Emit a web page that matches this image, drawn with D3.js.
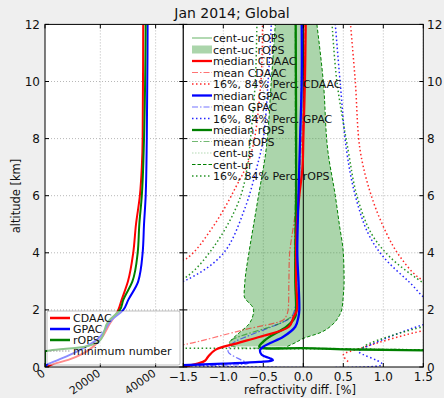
<!DOCTYPE html>
<html>
<head>
<meta charset="utf-8">
<script src="https://cdn.jsdelivr.net/npm/d3@7"></script>
<style>
  body { margin: 0; background: #efefef; }
  text { font-family: "DejaVu Sans", sans-serif; fill: #111; }
</style>
</head>
<body>
<svg id="chart" width="444" height="398"></svg>
<script>
// ---- left panel: number of profiles vs altitude ----
const nAltCDAAC = [0, 0.1, 0.25, 0.48, 0.95, 1.5, 2, 2.35, 3, 4, 5, 6, 7, 8, 12];
const nCDAAC = [600, 3000, 8400, 13900, 19900, 23300, 26500, 27700, 30000, 31900, 32900, 34300, 35000, 35300, 35500];
const nAltGPAC = [0, 0.07, 0.25, 0.48, 0.95, 1.65, 2, 2.35, 3, 4, 5, 6, 8, 12];
const nGPAC = [300, 600, 4800, 10200, 18700, 24100, 28300, 30100, 33700, 35300, 35800, 36400, 36800, 37100];
const nAltROPS = [0, 0.55, 0.58, 0.7, 0.93, 1.6, 2, 2.35, 3, 4, 5, 6, 8, 12];
const nROPS = [0, 0, 1800, 13900, 19900, 22900, 27100, 28300, 31600, 33500, 34100, 35000, 35800, 36400];
const nTicks = [0, 20000, 40000];

// ---- right panel: refractivity difference [%] ----
const medCAlt = [0, 0.05, 0.13, 0.22, 0.36, 0.6, 0.83, 1.06, 1.41, 1.76, 2, 3, 4, 5, 6, 7, 8, 10, 12];
const medC = [-1.5, -1.42, -1.31, -1.23, -1.19, -1.1, -0.83, -0.54, -0.18, -0.12, -0.08, -0.09, -0.09, -0.08, -0.05, -0.01, 0.0, 0.02, 0.03];
const medGAlt = [0.05, 0.12, 0.18, 0.24, 0.31, 0.43, 0.6, 0.71, 0.83, 1.06, 1.41, 1.76, 2, 3, 4, 6, 8, 10, 12];
const medG = [-1.6, -1.0, -0.55, -0.38, -0.42, -0.52, -0.54, -0.5, -0.42, -0.25, -0.1, -0.06, -0.05, -0.06, -0.075, -0.06, -0.04, -0.02, -0.02];
const medRAlt = [0.58, 0.6, 0.62, 0.66, 0.71, 0.89, 1.06, 1.41, 1.76, 2, 3, 4, 6, 8, 12];
const medR = [1.6, 1.0, 0.5, 0.0, -0.55, -0.5, -0.42, -0.21, -0.1, -0.09, -0.1, -0.1, -0.09, -0.09, -0.095];

const meanCAlt = [0.7, 0.8, 1.3, 1.65, 1.8, 2, 3, 4, 5, 6, 8, 10, 12];
const meanC = [-1.7, -1.46, -0.75, -0.25, -0.21, -0.19, -0.18, -0.17, -0.12, -0.07, -0.02, 0.01, 0.02];
const meanGAlt = [0.06, 0.13, 0.25, 0.54, 0.83, 1.11, 1.52, 1.75, 2, 3, 4, 6, 8, 12];
const meanG = [-1.6, -0.69, -0.78, -0.94, -0.88, -0.67, -0.3, -0.15, -0.11, -0.08, -0.08, -0.06, -0.04, -0.01];
const meanRAlt = [0.6, 0.67, 0.75, 0.89, 1.58, 1.88, 2, 3, 4, 6, 8, 12];
const meanR = [1.6, 0.0, -0.9, -0.92, -0.25, -0.11, -0.1, -0.1, -0.11, -0.1, -0.1, -0.1];

const p16CAlt = [3.5, 3.8, 4.91, 6.32, 7.5, 10, 12];
const p16C = [-1.8, -1.46, -1.13, -0.84, -0.65, -0.53, -0.51];
const p84CAlt = [0.19, 0.42, 0.65, 1.27, 1.35, 2.8, 3.1, 3.86, 4.68, 6, 7.6, 10, 12];
const p84C = [0.56, 0.5, 0.71, 1.5, 1.8, 1.8, 1.46, 1.21, 1.04, 0.85, 0.71, 0.65, 0.59];
const p16GAlt = [2.8, 3.05, 3.98, 5.56, 7, 8, 10, 12];
const p16G = [-1.8, -1.46, -1.0, -0.73, -0.58, -0.5, -0.44, -0.4];
const p84GAlt = [0.07, 0.07, 0.13, 0.54, 0.6, 1.53, 1.6, 2.3, 2.35, 2.96, 3.86, 4.68, 6, 7.6, 10, 12];
const p84G = [-1.8, 0.98, 0.98, 0.69, 0.71, 1.56, 1.8, 1.8, 1.56, 1.33, 1.0, 0.81, 0.65, 0.54, 0.46, 0.4];
const p16RAlt = [0.6, 0.64, 0.66, 0.67, 2.8, 3.16, 4.33, 5.85, 7, 8, 10, 12];
const p16R = [1.6, 0.0, -1.5, -1.8, -1.8, -1.46, -1.09, -0.8, -0.7, -0.66, -0.6, -0.58];
const p84RAlt = [0.6, 0.68, 1.41, 1.5, 2.7, 2.8, 3.1, 3.86, 4.68, 6, 7.6, 10, 12];
const p84R = [1.6, 0.75, 1.5, 1.8, 1.8, 1.6, 1.42, 1.08, 0.85, 0.67, 0.56, 0.42, 0.36];

// cent-ur band (shaded cent-uc region)
const bandAlt = [0.72, 0.85, 1.0, 1.2, 1.5, 1.8, 2.0, 2.5, 3, 4, 5, 6, 7.5, 10, 12];
const bandLo = [-0.9, -0.92, -0.88, -0.8, -0.68, -0.63, -0.62, -0.74, -0.73, -0.68, -0.62, -0.56, -0.47, -0.4, -0.35];
const bandHi = [-0.2, -0.1, 0.0, 0.21, 0.37, 0.45, 0.48, 0.5, 0.51, 0.5, 0.45, 0.4, 0.31, 0.25, 0.17];

const diffTicks = [-1.5, -1.0, -0.5, 0.0, 0.5, 1.0, 1.5];
const altTicks = [0, 2, 4, 6, 8, 10, 12];

const RED = "#ff0000", BLUE = "#0000ff", GREEN = "#008000";

const svg = d3.select("#chart");
const yTop = 24.4, yBot = 367;
const y = d3.scaleLinear().domain([0, 12]).range([yBot, yTop]);
const xL = d3.scaleLinear().domain([0, 50000]).range([45, 183.3]);
const xR = d3.scaleLinear().domain([-1.5, 1.5]).range([183.3, 423.3]);

const zip = (a, v) => a.map((h, i) => [v[i], h]);

function panel(x, id) {
  const [x0, x1] = x.range();
  svg.append("rect").attr("x", x0).attr("y", yTop).attr("width", x1 - x0).attr("height", yBot - yTop).attr("fill", "#fff");
  svg.append("clipPath").attr("id", id).append("rect")
    .attr("x", x0).attr("y", yTop).attr("width", x1 - x0).attr("height", yBot - yTop);
  return svg.append("g").attr("clip-path", `url(#${id})`);
}

function grid(g, x, xt) {
  const [x0, x1] = x.range();
  g.selectAll(null).data(altTicks.slice(1, -1)).enter().append("line")
    .attr("x1", x0).attr("x2", x1).attr("y1", d => y(d)).attr("y2", d => y(d))
    .attr("stroke", "#b8b8b8").attr("stroke-dasharray", "1,2");
  g.selectAll(null).data(xt).enter().append("line")
    .attr("x1", d => x(d)).attr("x2", d => x(d)).attr("y1", yTop).attr("y2", yBot)
    .attr("stroke", "#b8b8b8").attr("stroke-dasharray", "1,2");
}

function frame(x, xt) {
  const [x0, x1] = x.range();
  const g = svg.append("g").attr("stroke", "#000").attr("stroke-width", 1);
  g.append("rect").attr("x", x0).attr("y", yTop).attr("width", x1 - x0).attr("height", yBot - yTop).attr("fill", "none");
  altTicks.forEach(t => {
    g.append("line").attr("x1", x0).attr("x2", x0 + 4).attr("y1", y(t)).attr("y2", y(t));
    g.append("line").attr("x1", x1).attr("x2", x1 - 4).attr("y1", y(t)).attr("y2", y(t));
  });
  xt.forEach(t => {
    g.append("line").attr("x1", x(t)).attr("x2", x(t)).attr("y1", yBot).attr("y2", yBot - 4);
    g.append("line").attr("x1", x(t)).attr("x2", x(t)).attr("y1", yTop).attr("y2", yTop + 4);
  });
}

const line = (x, curve) => d3.line().x(d => x(d[0])).y(d => y(d[1])).curve(curve);
const smooth = d3.curveCatmullRom.alpha(0.5);

// ---------- left panel ----------
const gL = panel(xL, "clipL");
grid(gL, xL, nTicks.slice(1));
[[nAltCDAAC, nCDAAC, RED], [nAltGPAC, nGPAC, BLUE], [nAltROPS, nROPS, GREEN]].forEach(([a, v, c]) => {
  gL.append("path").datum(zip(a, v)).attr("d", line(xL, d3.curveMonotoneY))
    .attr("fill", "none").attr("stroke", c).attr("stroke-width", 2);
});
frame(xL, nTicks);

// ---------- right panel ----------
const gR = panel(xR, "clipR");
grid(gR, xR, diffTicks.filter(d => d !== 0));

// shaded band
gR.append("path").datum(bandAlt.map((h, i) => [h, bandLo[i], bandHi[i]]))
  .attr("d", d3.area().y(d => y(d[0])).x0(d => xR(d[1])).x1(d => xR(d[2])).curve(d3.curveMonotoneY))
  .attr("fill", GREEN).attr("fill-opacity", 0.33);
[bandLo, bandHi].forEach(v => {
  gR.append("path").datum(zip(bandAlt, v)).attr("d", line(xR, d3.curveMonotoneY))
    .attr("fill", "none").attr("stroke", GREEN).attr("stroke-width", 1).attr("stroke-dasharray", "3.5,2");
});

gR.append("line").attr("x1", xR(0)).attr("x2", xR(0)).attr("y1", yTop).attr("y2", yBot)
  .attr("stroke", "#000").attr("stroke-width", 1);

const styles = {
  perc: { w: 1.5, dash: "1.5,2.5", op: 0.85 },
  mean: { w: 1.2, dash: "6,2,1.5,2", op: 0.55 },
  med:  { w: 2.3, dash: null, op: 1 }
};
const series = [
  [p16CAlt, p16C, RED, "perc"], [p84CAlt, p84C, RED, "perc"],
  [p16GAlt, p16G, BLUE, "perc"], [p84GAlt, p84G, BLUE, "perc"],
  [p16RAlt, p16R, GREEN, "perc"], [p84RAlt, p84R, GREEN, "perc"],
  [meanCAlt, meanC, RED, "mean"], [meanGAlt, meanG, BLUE, "mean"], [meanRAlt, meanR, GREEN, "mean"],
  [medRAlt, medR, GREEN, "med"], [medCAlt, medC, RED, "med"], [medGAlt, medG, BLUE, "med"]
];
series.forEach(([a, v, c, s]) => {
  const st = styles[s];
  gR.append("path").datum(zip(a, v)).attr("d", line(xR, smooth))
    .attr("fill", "none").attr("stroke", c).attr("stroke-width", st.w)
    .attr("stroke-opacity", st.op).attr("stroke-dasharray", st.dash);
});
frame(xR, diffTicks);

// ---------- tick labels ----------
altTicks.forEach(t => {
  svg.append("text").attr("x", 40).attr("y", y(t) + 4.5).attr("text-anchor", "end")
    .attr("font-size", 12).text(t);
  svg.append("text").attr("x", 427).attr("y", y(t) + 4.5).attr("text-anchor", "start")
    .attr("font-size", 12).text(t);
});
diffTicks.forEach(t => {
  svg.append("text").attr("x", xR(t)).attr("y", 380.5).attr("text-anchor", "middle")
    .attr("font-size", 12).text(d3.format(".1f")(t).replace("-", "\u2212"));
});
nTicks.forEach(t => {
  svg.append("text").attr("transform", `translate(${xL(t) + 1},${yBot + 8}) rotate(-35)`)
    .attr("text-anchor", "end").attr("font-size", 11).text(t);
});

svg.append("text").attr("x", 232).attr("y", 18).attr("text-anchor", "middle")
  .attr("font-size", 14).text("Jan 2014; Global");
svg.append("text").attr("transform", "translate(20,196) rotate(-90)").attr("text-anchor", "middle")
  .attr("font-size", 11.5).text("altitude [km]");
svg.append("text").attr("x", 300).attr("y", 394).attr("text-anchor", "middle")
  .attr("font-size", 11.5).text("refractivity diff. [%]");

// ---------- legends ----------
const legL = svg.append("g");
legL.append("rect").attr("x", 47).attr("y", 311).attr("width", 133).attr("height", 54).attr("rx", 2)
  .attr("fill", "#fff").attr("fill-opacity", 0.55).attr("stroke", "#000").attr("stroke-opacity", 0.25);
const legLItems = [["CDAAC", RED, null, 2.5], ["GPAC", BLUE, null, 2.5], ["rOPS", GREEN, null, 2.5], ["minimum number", "#999", "1.5,1.5", 1.2]];
legLItems.forEach(([name, c, dash, w], i) => {
  const yy = 318 + i * 11;
  legL.append("line").attr("x1", 50).attr("x2", 70).attr("y1", yy).attr("y2", yy)
    .attr("stroke", c).attr("stroke-width", w).attr("stroke-dasharray", dash);
  legL.append("text").attr("x", 73).attr("y", yy + 4).attr("font-size", 11).text(name);
});

const legR = svg.append("g");
const legRItems = [
  ["cent-uc rOPS", GREEN, "line", null, 2, 0.3],
  ["cent-uc rOPS", GREEN, "patch", null, 0, 0.33],
  ["median CDAAC", RED, "line", null, 2.3, 1],
  ["mean CDAAC", RED, "line", "6,2,1.5,2", 1.2, 0.55],
  ["16%, 84% Perc. CDAAC", RED, "line", "1.5,2.5", 1.5, 0.85],
  ["median GPAC", BLUE, "line", null, 2.3, 1],
  ["mean GPAC", BLUE, "line", "6,2,1.5,2", 1.2, 0.55],
  ["16%, 84% Perc. GPAC", BLUE, "line", "1.5,2.5", 1.5, 0.85],
  ["median rOPS", GREEN, "line", null, 2.3, 1],
  ["mean rOPS", GREEN, "line", "6,2,1.5,2", 1.2, 0.55],
  ["cent-us", GREEN, "line", "1.5,1.5", 1.2, 0.3],
  ["cent-ur", GREEN, "line", "3.5,2", 1, 1],
  ["16%, 84% Perc. rOPS", GREEN, "line", "1.5,2.5", 1.5, 0.85]
];
legRItems.forEach(([name, c, kind, dash, w, op], i) => {
  const yy = 38 + i * 11.5;
  if (kind === "patch") {
    legR.append("rect").attr("x", 192).attr("y", yy - 4).attr("width", 20).attr("height", 8)
      .attr("fill", c).attr("fill-opacity", op);
  } else {
    legR.append("line").attr("x1", 192).attr("x2", 212).attr("y1", yy).attr("y2", yy)
      .attr("stroke", c).attr("stroke-width", w).attr("stroke-opacity", op).attr("stroke-dasharray", dash);
  }
  legR.append("text").attr("x", 213).attr("y", yy + 4).attr("font-size", 11).text(name);
});
</script>
</body>
</html>
